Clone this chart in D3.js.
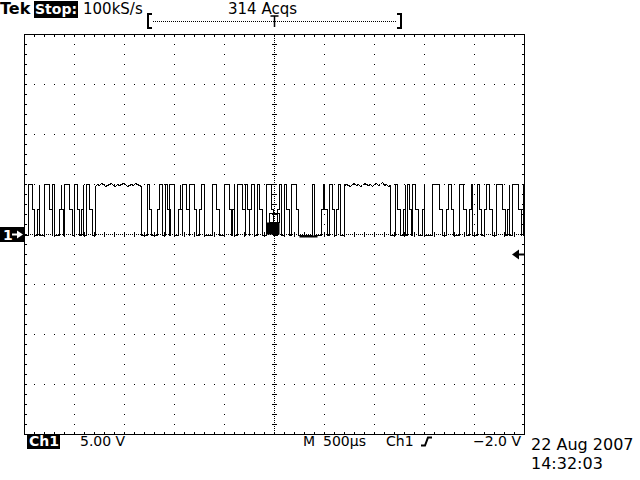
<!DOCTYPE html>
<html><head><meta charset="utf-8">
<script src="https://cdn.jsdelivr.net/npm/d3@7"></script>
<style>html,body{margin:0;padding:0;background:#fff;} svg{display:block;}</style>
</head><body><svg id="c" width="640" height="480"></svg>
<script>
// ---------- data ----------
const timeDomain = [-2500, 2500];   // µs, 500 µs/div x 10 div, trigger at 0
const voltDomain = [-20, 20];       // V, 5 V/div x 8 div
const lowLevel = -0.1, highLevel = 5.0, midLevel = 2.5;
const triggerLevel = -2.0;
// pulses: [rise µs, fall µs, rise shelf µs, fall shelf µs]
const pulses = [
  [-2460,-2420,0,20], [-2370,-2350,20,0], [-2300,-2250,0,30], [-2220,-2200,0,0],
  [-2150,-2130,20,20], [-2100,-2050,0,30], [-2000,-1970,0,20], [-1930,-1910,20,0],
  [-1880,-1850,0,30],
  [-1270,-1250,0,20], [-1170,-1120,20,0], [-1090,-1070,0,30], [-1050,-1000,0,0],
  [-960,-940,20,20], [-920,-880,0,30], [-850,-800,0,20], [-750,-700,20,0],
  [-620,-580,0,30], [-500,-450,0,20], [-420,-400,20,0], [-370,-320,0,30],
  [-290,-270,0,20], [-250,-200,20,0], [-170,-150,0,30], [-80,-30,0,20],
  [30,70,20,0], [100,120,0,30], [170,220,0,20], [380,400,0,0],
  [470,500,20,30], [550,580,0,20], [620,660,20,0],
  [1210,1230,0,30], [1290,1310,20,0], [1330,1350,0,20], [1380,1410,0,30],
  [1480,1500,20,0], [1580,1650,0,30], [1720,1770,20,20], [1850,1890,0,30],
  [1950,1980,20,0], [2030,2050,0,20], [2100,2150,20,30], [2220,2280,0,30],
  [2330,2350,20,0], [2380,2440,0,30], [2470,2490,20,0]
];
// long noisy high plateaus: [time µs, volts]
const plateauA = [
  [-1790,4.8],[-1770,5.0],[-1750,4.9],[-1730,5.1],[-1710,5.0],[-1690,4.8],[-1670,4.9],[-1650,5.0],
  [-1630,5.1],[-1610,4.9],[-1590,4.8],[-1570,5.0],[-1550,4.9],[-1530,5.0],[-1510,5.1],[-1490,5.0],
  [-1470,4.8],[-1450,4.9],[-1430,5.0],[-1410,4.9],[-1390,5.1],[-1370,5.0],[-1350,4.9],[-1330,4.8]
];
const plateauB = [
  [700,4.9],[720,5.0],[740,4.9],[760,4.8],[780,5.0],[800,5.1],[820,4.9],[840,5.0],
  [860,4.8],[880,4.9],[900,5.1],[920,5.0],[940,4.9],[960,5.0],[980,4.8],[1000,5.0],
  [1020,5.1],[1040,4.9],[1060,5.0],[1080,5.2],[1100,4.9],[1120,5.0],[1140,4.8],[1160,4.9]
];
// overlapping acquisitions near trigger point: [t0, t1, v0, v1]
const jitterFill = [-80, 50, 0, 1.2];
const jitterBox = [-50, 50, 1.2, 2.1];
const thickLow = [250, 430, -0.3, -0.1];
const headerLabels = ["Tek", "Stop:", "100kS/s", "314 Acqs"];
const footerLabels = ["Ch1", "5.00 V", "M", "500µs", "Ch1", "−2.0 V"];
const dateLabels = ["22 Aug 2007", "14:32:03"];

// ---------- scales ----------
const svg = d3.select("#c");
const x = d3.scaleLinear().domain(timeDomain).range([24.5, 524.5]);
const y = d3.scaleLinear().domain(voltDomain).range([434.5, 34.5]);
const FONT = "DejaVu Sans";

// ---------- graticule ----------
const g = svg.append("g").attr("shape-rendering", "crispEdges").attr("fill", "#000");
const dot = (px, py) => g.append("rect").attr("x", Math.floor(px)).attr("y", Math.floor(py)).attr("width", 1).attr("height", 1);
const vLines = d3.range(-2000, 2001, 500).filter(t => t !== 0);
const hLines = d3.range(-15, 16, 5).filter(v => v !== 0);
vLines.forEach(t => d3.range(-20, 20.01, 1).forEach(v => dot(x(t), y(v))));
hLines.forEach(v => d3.range(-2500, 2501, 100).forEach(t => dot(x(t), y(v))));
// centre cross, dense dots and ticks
d3.range(-2500, 2501, 20).forEach(t => dot(x(t), y(0)));
d3.range(-20, 20.01, 0.2).forEach(v => dot(x(0), y(v)));
d3.range(-2500, 2501, 100).forEach(t => g.append("rect").attr("x", Math.floor(x(t))).attr("y", Math.floor(y(0)) - 2).attr("width", 1).attr("height", 5));
d3.range(-20, 20.01, 1).forEach(v => g.append("rect").attr("x", Math.floor(x(0)) - 2).attr("y", Math.floor(y(v))).attr("width", 5).attr("height", 1));
// border ticks
d3.range(-2500, 2501, 100).forEach(t => {
  g.append("rect").attr("x", Math.floor(x(t))).attr("y", Math.floor(y(20))).attr("width", 1).attr("height", 3);
  g.append("rect").attr("x", Math.floor(x(t))).attr("y", Math.floor(y(-20)) - 2).attr("width", 1).attr("height", 3);
});
d3.range(-20, 20.01, 1).forEach(v => {
  g.append("rect").attr("x", Math.floor(x(-2500))).attr("y", Math.floor(y(v))).attr("width", 3).attr("height", 1);
  g.append("rect").attr("x", Math.floor(x(2500)) - 2).attr("y", Math.floor(y(v))).attr("width", 3).attr("height", 1);
});
svg.append("rect").attr("x", x(-2500)).attr("y", y(20)).attr("width", x(2500) - x(-2500)).attr("height", y(-20) - y(20))
  .attr("fill", "none").attr("stroke", "#000").attr("stroke-width", 1).attr("shape-rendering", "crispEdges");

// ---------- trace ----------
const events = pulses.map(p => ({t: p[0], type: "pulse", p}))
  .concat([plateauA, plateauB].map(pl => ({t: pl[0][0], type: "plateau", pl})))
  .sort((a, b) => a.t - b.t);
const pts = [[timeDomain[0], lowLevel]];
events.forEach(e => {
  if (e.type === "pulse") {
    const [s, f, rs, fs] = e.p;
    pts.push([s, lowLevel]);
    if (rs > 0) { pts.push([s, midLevel], [s + rs, midLevel]); pts.push([s + rs, highLevel]); }
    else pts.push([s, highLevel]);
    pts.push([f, highLevel]);
    if (fs > 0) { pts.push([f, midLevel], [f + fs, midLevel], [f + fs, lowLevel]); }
    else pts.push([f, lowLevel]);
  } else {
    const pl = e.pl;
    pts.push([pl[0][0], lowLevel]);
    pl.forEach(d => pts.push(d));
    pts.push([pl[pl.length - 1][0], lowLevel]);
  }
});
pts.push([timeDomain[1], lowLevel]);
const line = d3.line().x(d => x(d[0])).y(d => Math.floor(y(d[1])) + 0.5);
svg.append("path").attr("d", line(pts)).attr("fill", "none").attr("stroke", "#000").attr("stroke-width", 1)
  .attr("shape-rendering", "crispEdges");
svg.append("rect").attr("x", x(jitterFill[0])).attr("y", y(jitterFill[3])).attr("width", x(jitterFill[1]) - x(jitterFill[0]))
  .attr("height", y(jitterFill[2]) - y(jitterFill[3])).attr("fill", "#000");
svg.append("rect").attr("x", x(jitterBox[0])).attr("y", y(jitterBox[3])).attr("width", x(jitterBox[1]) - x(jitterBox[0]))
  .attr("height", y(jitterBox[2]) - y(jitterBox[3])).attr("fill", "none").attr("stroke", "#000").attr("shape-rendering", "crispEdges");
svg.append("rect").attr("x", x(thickLow[0])).attr("y", y(thickLow[3])).attr("width", x(thickLow[1]) - x(thickLow[0]))
  .attr("height", y(thickLow[2]) - y(thickLow[3])).attr("fill", "#000");

// ---------- markers ----------
// ground marker "1→"
svg.append("rect").attr("x", 0).attr("y", 227).attr("width", 24).attr("height", 15).attr("fill", "#000");
svg.append("text").attr("x", 3).attr("y", 240).text("1").attr("fill", "#fff").attr("font-family", FONT).attr("font-weight", "bold").attr("font-size", 14);
svg.append("line").attr("x1", 12).attr("x2", 19).attr("y1", y(0)).attr("y2", y(0)).attr("stroke", "#fff").attr("stroke-width", 2);
svg.append("path").attr("d", `M17,${y(0) - 4}L23,${y(0)}L17,${y(0) + 4}Z`).attr("fill", "#fff");
// trigger level arrow on right
const ty = y(triggerLevel);
svg.append("path").attr("d", `M512,${ty}L519,${ty - 5}L519,${ty + 5}Z`).attr("fill", "#000");
svg.append("line").attr("x1", 518).attr("x2", 524).attr("y1", ty).attr("y2", ty).attr("stroke", "#000").attr("stroke-width", 2);
// record bracket on top
const tx = x(0);
svg.append("path").attr("d", `M152,14H148V28H152`).attr("fill", "none").attr("stroke", "#000").attr("stroke-width", 2);
svg.append("path").attr("d", `M397,14H401V28H397`).attr("fill", "none").attr("stroke", "#000").attr("stroke-width", 2);
d3.range(153, 397, 2).forEach(px => svg.append("rect").attr("x", px).attr("y", 21).attr("width", 1).attr("height", 1).attr("fill", "#000"));
svg.append("path").attr("d", `M${tx - 4},16H${tx + 4}M${tx},16V27`).attr("stroke", "#000").attr("stroke-width", 1.5).attr("fill", "none");

// ---------- text ----------
const txt = (s, px, py, opt = {}) => svg.append("text").attr("x", px).attr("y", py).text(s)
  .attr("font-family", FONT).attr("font-size", opt.size || 15).attr("fill", opt.fill || "#000")
  .attr("font-weight", opt.weight || "normal").attr("text-anchor", opt.anchor || "start");
txt(headerLabels[0], 0, 14, {size: 16, weight: "bold"});
svg.append("rect").attr("x", 34).attr("y", 1).attr("width", 44).attr("height", 17).attr("fill", "#000");
txt(headerLabels[1], 35, 14, {size: 14, weight: "bold", fill: "#fff"});
txt(headerLabels[2], 83, 14, {size: 15});
txt(headerLabels[3], 228, 14, {size: 15});

svg.append("rect").attr("x", 27).attr("y", 434).attr("width", 33).attr("height", 15).attr("fill", "#000");
txt(footerLabels[0], 29, 446, {size: 14, weight: "bold", fill: "#fff"});
txt(footerLabels[1], 80, 446, {size: 14});
txt(footerLabels[2], 303, 446, {size: 14});
txt(footerLabels[3], 323, 446, {size: 14});
txt(footerLabels[4], 386, 446, {size: 14});
svg.append("path").attr("d", "M421,445.5H425L428,437.5H432").attr("stroke", "#000").attr("stroke-width", 2).attr("fill", "none");
txt(footerLabels[5], 521, 446, {size: 14, anchor: "end"});
txt(dateLabels[0], 531, 450, {size: 16});
txt(dateLabels[1], 531, 469, {size: 16});
</script></body></html>
